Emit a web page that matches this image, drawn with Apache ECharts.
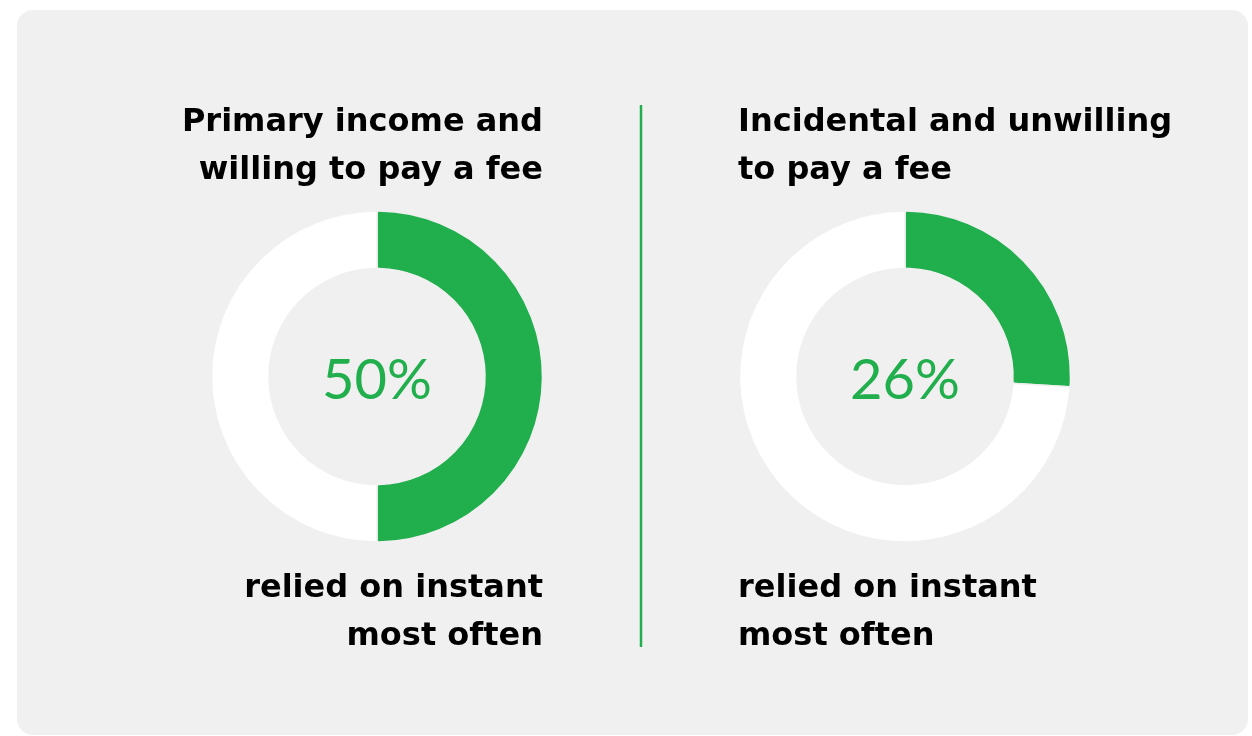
<!DOCTYPE html>
<html>
<head>
<meta charset="utf-8">
<script src="https://cdn.jsdelivr.net/npm/echarts@6/dist/echarts.min.js"></script>
<style>
  html, body { margin: 0; padding: 0; background: #ffffff; }
  #chart { width: 1252px; height: 736px; }
</style>
</head>
<body>
<div id="chart"></div>
<script>
// Share of each group that relied on instant payouts most often
const groups = ['Primary income and\nwilling to pay a fee', 'Incidental and unwilling\nto pay a fee'];
const shares = [50, 26];
const caption = 'relied on instant\nmost often';

const GREEN = '#21ae4c';
const PANEL = '#f0f0f0';
const TEXT_FONT = '"DejaVu Sans", sans-serif';

const chart = echarts.init(document.getElementById('chart'), null, { renderer: 'canvas' });

// Donut centres and text anchors for the two panels
const layouts = [
  { cx: 377, align: 'right', textX: 543 },
  { cx: 905, align: 'left', textX: 738 }
];
const cy = 376.5;

const series = shares.map((v, i) => ({
  type: 'pie',
  silent: true,
  center: [layouts[i].cx, cy],
  radius: [108, 165.5],
  startAngle: 90,
  clockwise: true,
  avoidLabelOverlap: false,
  itemStyle: { borderColor: PANEL, borderWidth: 1.5, borderRadius: 2 },
  labelLine: { show: false },
  data: [
    {
      value: v,
      itemStyle: { color: GREEN },
      label: {
        show: true,
        position: 'center',
        formatter: '{c}%',
        color: GREEN,
        fontFamily: 'Lato, sans-serif',
        fontWeight: 'normal',
        fontSize: 56,
        offset: [0, 4]
      }
    },
    {
      value: 100 - v,
      itemStyle: { color: '#ffffff' },
      label: { show: false }
    }
  ]
}));

const textStyle = (text, align) => ({
  text: text,
  fill: '#000000',
  font: 'bold 32px ' + TEXT_FONT,
  align: align,
  verticalAlign: 'top',
  lineHeight: 48
});

const textBlocks = [];
groups.forEach((g, i) => {
  const L = layouts[i];
  textBlocks.push({ type: 'text', x: L.textX, y: 99, style: textStyle(g, L.align) });
  textBlocks.push({ type: 'text', x: L.textX, y: 565, style: textStyle(caption, L.align) });
});

chart.setOption({
  animation: false,
  backgroundColor: '#ffffff',
  graphic: [
    {
      type: 'rect',
      z: -10,
      shape: { x: 17, y: 10, width: 1231, height: 725, r: 16 },
      style: { fill: PANEL }
    },
    {
      type: 'line',
      shape: { x1: 641, y1: 105, x2: 641, y2: 647 },
      style: { stroke: GREEN, lineWidth: 2.5 }
    }
  ].concat(textBlocks),
  series: series
});
</script>
</body>
</html>
